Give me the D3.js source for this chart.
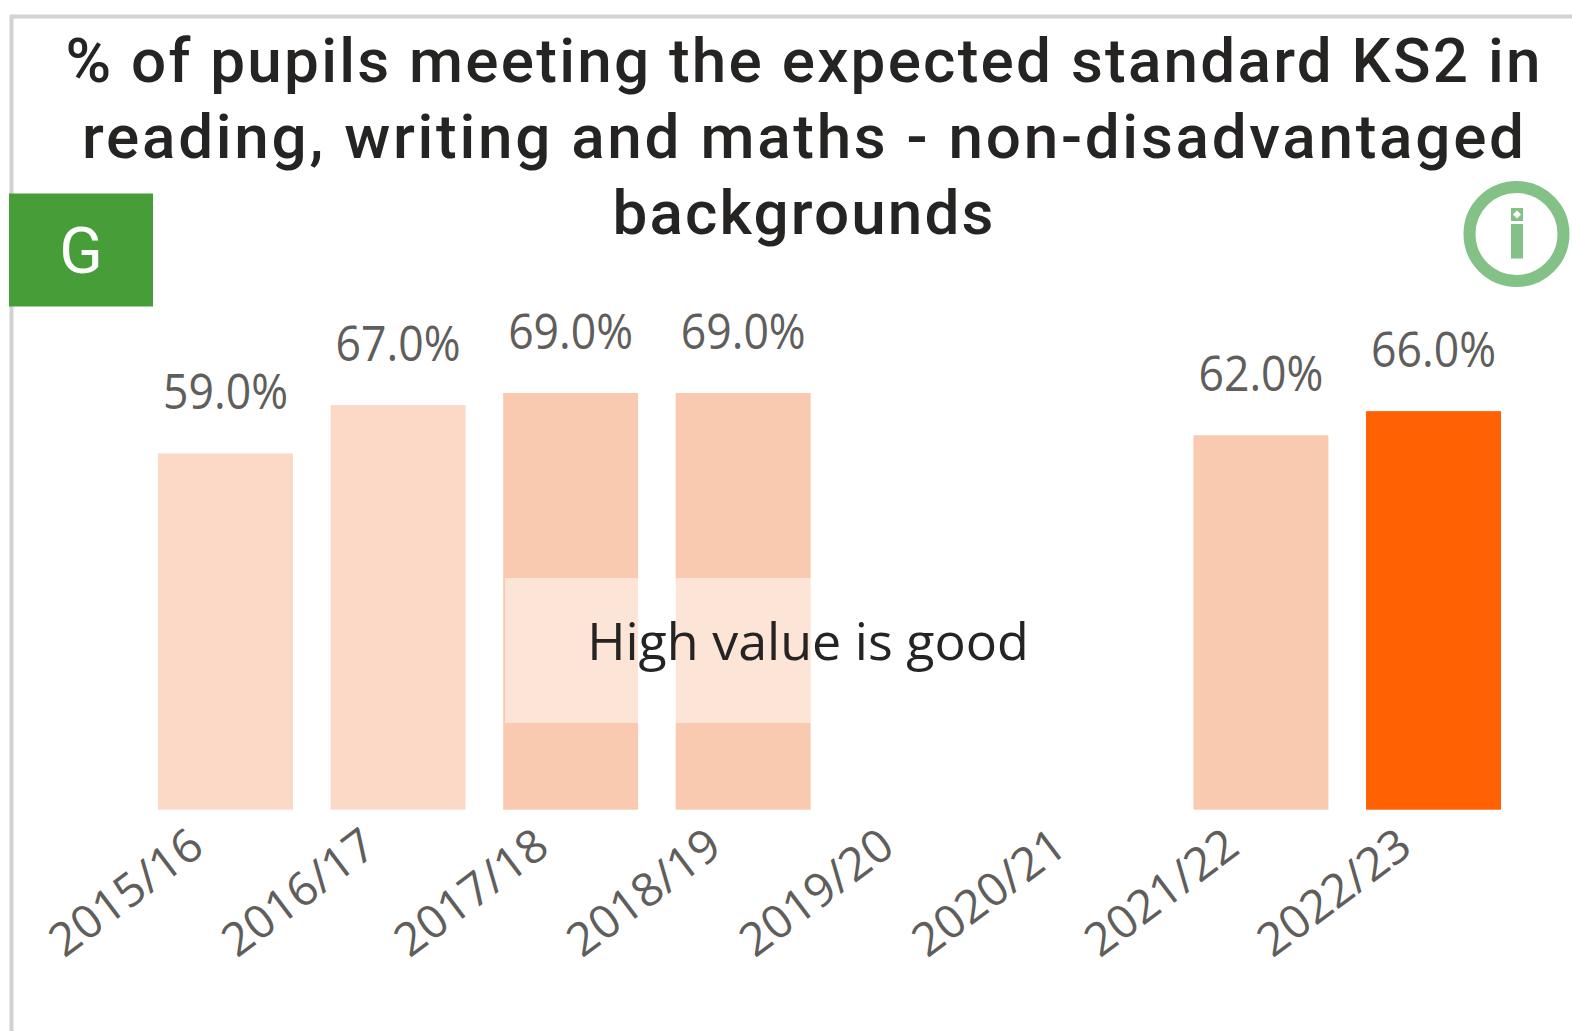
<!DOCTYPE html>
<html lang="en">
<head>
    <meta charset="UTF-8">
    <title>KS2 expected standard</title>
    <script src="https://d3js.org/d3.v7.min.js"></script>
    <style>
        html, body { margin: 0; padding: 0; background: #fff; overflow: hidden; }
        svg { display: block; }
        .title { font-family: Roboto, sans-serif; font-size: 62px; font-weight: 500; fill: #252423; text-anchor: middle; }
        .value { font-family: "Open Sans", sans-serif; font-size: 50px; fill: #605e5c; text-anchor: middle; }
        .tick text { font-family: "Open Sans", sans-serif; font-size: 46px; fill: #605e5c; }
        .note { font-family: "Open Sans", sans-serif; font-size: 52px; fill: #252423; text-anchor: middle; }
        .rag { font-family: Roboto, sans-serif; font-size: 64px; fill: #fff; text-anchor: middle; }
    </style>
</head>
<body>
    <svg width="1572" height="1031"></svg>

    <script>
        // Values
        const years = ["2015/16", "2016/17", "2017/18", "2018/19", "2019/20", "2020/21", "2021/22", "2022/23"];
        const values = [59, 67, 69, 69, null, null, 62, 66];
        const shades = ["pale", "pale", "mid", "mid", "pale", "pale", "mid", "full"];
        const titleLines = [
            "% of pupils meeting the expected standard KS2 in",
            "reading, writing and maths - non-disadvantaged",
            "backgrounds"
        ];

        const svg = d3.select("svg");

        const x = d3.scaleBand()
            .domain(years)
            .range([158, 1501])
            .paddingInner(0.218)
            .paddingOuter(0);

        const y = d3.scaleLinear()
            .domain([0, 69])
            .range([809.7, 393]);

        const fill = d3.scaleOrdinal()
            .domain(["pale", "mid", "full"])
            .range(["#fcd9c6", "#f9caaf", "#ff6103"]);

        // Card border, only top and left are visible
        svg.append("path")
            .attr("d", "M11.5,1031V16.5H1572")
            .attr("fill", "none")
            .attr("stroke", "#d2d2d2")
            .attr("stroke-width", 4);

        // Title, each line stretched to the width it has in the reference
        const titleWidths = [1475, 1442, 381];
        svg.selectAll(".title")
            .data(titleLines)
            .join("text")
            .attr("class", "title")
            .attr("x", 803)
            .attr("y", (d, i) => 82 + i * 76)
            .attr("textLength", (d, i) => titleWidths[i])
            .text(d => d);

        // Bars
        const shown = years.map((year, i) => ({year, value: values[i], shade: shades[i]}))
            .filter(d => d.value !== null);

        svg.selectAll(".bar")
            .data(shown)
            .join("rect")
            .attr("class", "bar")
            .attr("x", d => x(d.year))
            .attr("y", d => y(d.value))
            .attr("width", x.bandwidth())
            .attr("height", d => y(0) - y(d.value))
            .attr("fill", d => fill(d.shade));

        // Open Sans runs wider than the original font, so squeeze the labels a bit
        svg.selectAll(".value")
            .data(shown)
            .join("text")
            .attr("class", "value")
            .attr("x", d => x(d.year) + x.bandwidth() / 2)
            .attr("y", d => y(d.value) - 44)
            .attr("textLength", 125)
            .attr("lengthAdjust", "spacingAndGlyphs")
            .text(d => d.value.toFixed(1) + "%");

        // X axis with slanted labels
        const axis = svg.append("g")
            .attr("transform", `translate(0,${y(0)})`)
            .call(d3.axisBottom(x).tickSize(0));
        axis.select(".domain").remove();
        axis.selectAll(".tick text")
            .attr("text-anchor", "end")
            .attr("dy", null)
            .attr("x", 0)
            .attr("y", 0)
            .attr("textLength", 178)
            .attr("lengthAdjust", "spacingAndGlyphs")
            .attr("transform", "translate(-19,42) rotate(-37)");

        // "High value is good" overlay
        svg.append("rect")
            .attr("x", 505)
            .attr("y", 578)
            .attr("width", 306)
            .attr("height", 145)
            .attr("fill", "#fff")
            .attr("fill-opacity", 0.5);
        svg.append("text")
            .attr("class", "note")
            .attr("x", 808)
            .attr("y", 660)
            .text("High value is good");

        // RAG badge
        svg.append("rect")
            .attr("x", 9)
            .attr("y", 193.5)
            .attr("width", 144)
            .attr("height", 113)
            .attr("fill", "#479e38");
        svg.append("text")
            .attr("class", "rag")
            .attr("x", 81)
            .attr("y", 273)
            .text("G");

        // Info icon
        const info = svg.append("g").attr("fill", "#83c187");
        info.append("circle")
            .attr("cx", 1516.5)
            .attr("cy", 234)
            .attr("r", 47)
            .attr("fill", "none")
            .attr("stroke", "#83c187")
            .attr("stroke-width", 12);
        info.append("rect").attr("x", 1511).attr("y", 208).attr("width", 12).attr("height", 13);
        info.append("path").attr("d", "M1517,210.5l4,4l-4,4l-4,-4z").attr("fill", "#fff");
        info.append("rect").attr("x", 1511).attr("y", 224).attr("width", 12).attr("height", 34.5);
    </script>
</body>
</html>
